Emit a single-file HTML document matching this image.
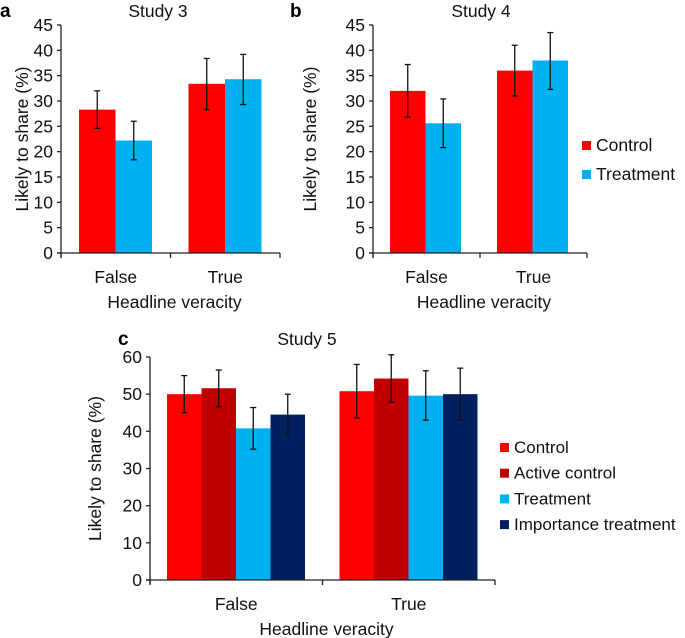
<!DOCTYPE html>
<html><head><meta charset="utf-8"><style>
body{margin:0;background:#fff}
svg{display:block;font-family:"Liberation Sans",Arial,sans-serif}
</style></head><body>
<svg id="fig" width="685" height="638" viewBox="0 0 685 638"></svg>
<script>
const categories=["False","True"];
const studyA_control=[28.3,33.4], studyA_controlLo=[24.6,28.3], studyA_controlHi=[32,38.4];
const studyA_treat=[22.2,34.3], studyA_treatLo=[18.4,29.3], studyA_treatHi=[26,39.2];
const studyB_control=[32,36], studyB_controlLo=[26.8,31], studyB_controlHi=[37.2,41];
const studyB_treat=[25.6,38], studyB_treatLo=[20.8,32.3], studyB_treatHi=[30.4,43.5];
const studyC_control=[50,50.8], studyC_controlLo=[45,43.6], studyC_controlHi=[55,58];
const studyC_active=[51.6,54.2], studyC_activeLo=[46.6,47.8], studyC_activeHi=[56.5,60.6];
const studyC_treat=[40.8,49.6], studyC_treatLo=[35.2,43], studyC_treatHi=[46.4,56.3];
const studyC_imp=[44.5,50], studyC_impLo=[39,43], studyC_impHi=[50,57];
const ticksAB=[0,5,10,15,20,25,30,35,40,45];
const ticksC=[0,10,20,30,40,50,60];

const NS="http://www.w3.org/2000/svg";
const svg=document.getElementById('fig');
const FS=17.5;
function mk(tag,attrs,parent,text){const e=document.createElementNS(NS,tag);for(const k in attrs)e.setAttribute(k,attrs[k]);if(text!==undefined)e.textContent=text;(parent||svg).appendChild(e);return e;}

function panel(cfg){
  const g=mk('g',{});
  
  
  const y=v=>cfg.y0-(v-cfg.ymin)/(cfg.ymax-cfg.ymin)*(cfg.y0-cfg.ytop);
  const groupW=(cfg.xr-cfg.x0)/categories.length;
  cfg.series.forEach((s,si)=>{
    categories.forEach((c,ci)=>{
      const gx=cfg.x0+groupW*ci+cfg.pad;
      const x=gx+si*cfg.bw;
      const r=mk('rect',{x:x,y:y(s.vals[ci]),width:cfg.bw,height:y(0)-y(s.vals[ci]),fill:s.color},g);
      
      
      const cx=x+cfg.bw/2;
      const e=mk('g',{stroke:'#111','stroke-width':1.3},g);
      
      
      mk('line',{x1:cx,x2:cx,y1:y(s.lo[ci]),y2:y(s.hi[ci])},e);
      mk('line',{x1:cx-3,x2:cx+3,y1:y(s.lo[ci]),y2:y(s.lo[ci])},e);
      mk('line',{x1:cx-3,x2:cx+3,y1:y(s.hi[ci]),y2:y(s.hi[ci])},e);
    });
  });
  const ax=mk('g',{stroke:'#222','stroke-width':1.3},g);
  
  
  mk('line',{x1:cfg.x0,x2:cfg.x0,y1:cfg.ytop,y2:cfg.y0+4},ax);
  mk('line',{x1:cfg.x0-4,x2:cfg.xr,y1:cfg.y0,y2:cfg.y0},ax);
  for(let i=0;i<=categories.length;i++){const tx=cfg.x0+groupW*i;mk('line',{x1:tx,x2:tx,y1:cfg.y0,y2:cfg.y0+5},ax);}
  cfg.ticks.forEach(t=>{
    mk('line',{x1:cfg.x0-4,x2:cfg.x0,y1:y(t),y2:y(t)},ax);
    const tl=mk('text',{x:cfg.x0-8,y:y(t)+6,'text-anchor':'end','font-size':FS,fill:'#111'},g,t);
    
    
  });
  categories.forEach((c,ci)=>{
    const t=mk('text',{x:cfg.x0+groupW*(ci+0.5),y:cfg.y0+30,'text-anchor':'middle','font-size':FS,fill:'#111'},g,c);
    
    
  });
  const xt=mk('text',{x:(cfg.x0+cfg.xr)/2+4,y:cfg.y0+55,'text-anchor':'middle','font-size':FS,fill:'#111'},g,'Headline veracity');
  
  
  const yc=(cfg.y0+cfg.ytop)/2;
  const yt=mk('text',{x:cfg.ylx,y:yc,'text-anchor':'middle','font-size':FS,fill:'#111',transform:`rotate(-90 ${cfg.ylx} ${yc})`},g,'Likely to share (%)');
  
  
  const tt=mk('text',{x:cfg.titleX,y:cfg.titleY,'text-anchor':'middle','font-size':FS,fill:'#111'},g,cfg.title);
  
  
  const pl=mk('text',{x:cfg.letterX,y:cfg.titleY,'font-size':19,'font-weight':'bold',fill:'#000'},g,cfg.id);
  
  
  if(cfg.legend){
    cfg.series.forEach((s,si)=>{
      const ly=cfg.legend.y+si*cfg.legend.dy;
      const le=mk('g',{},g);
      
      
      mk('rect',{x:cfg.legend.x,y:ly-10,width:9,height:9,fill:s.color},le);
      mk('text',{x:cfg.legend.x+14,y:ly,'font-size':cfg.legend.fs,fill:'#111'},le,s.label);
    });
  }
}
const RED='#ff0000',BLUE='#00b0f0',DRED='#c00000',NAVY='#002060';
panel({id:'a',name:'panel-a-study-3',x0:61,xr:280,y0:253,ytop:25,ymin:0,ymax:45,ticks:ticksAB,pad:18,bw:36.5,ylx:28,
  title:'Study 3',titleX:158,titleY:17,letterX:0,
  series:[{key:'control',label:'Control',color:RED,vals:studyA_control,lo:studyA_controlLo,hi:studyA_controlHi},
          {key:'treatment',label:'Treatment',color:BLUE,vals:studyA_treat,lo:studyA_treatLo,hi:studyA_treatHi}]});
panel({id:'b',name:'panel-b-study-4',x0:373,xr:587,y0:253,ytop:25,ymin:0,ymax:45,ticks:ticksAB,pad:17,bw:35.5,ylx:316,
  title:'Study 4',titleX:481,titleY:17,letterX:290,
  legend:{x:582,y:151,dy:29,fs:17.5},
  series:[{key:'control',label:'Control',color:RED,vals:studyB_control,lo:studyB_controlLo,hi:studyB_controlHi},
          {key:'treatment',label:'Treatment',color:BLUE,vals:studyB_treat,lo:studyB_treatLo,hi:studyB_treatHi}]});
panel({id:'c',name:'panel-c-study-5',x0:150,xr:495,y0:580,ytop:357,ymin:0,ymax:60,ticks:ticksC,pad:17,bw:34.5,ylx:101,
  title:'Study 5',titleX:307,titleY:345,letterX:118,
  legend:{x:500,y:453,dy:25.7,fs:17},
  series:[{key:'control',label:'Control',color:RED,vals:studyC_control,lo:studyC_controlLo,hi:studyC_controlHi},
          {key:'active-control',label:'Active control',color:DRED,vals:studyC_active,lo:studyC_activeLo,hi:studyC_activeHi},
          {key:'treatment',label:'Treatment',color:BLUE,vals:studyC_treat,lo:studyC_treatLo,hi:studyC_treatHi},
          {key:'importance-treatment',label:'Importance treatment',color:NAVY,vals:studyC_imp,lo:studyC_impLo,hi:studyC_impHi}]});
</script>
</body></html>
